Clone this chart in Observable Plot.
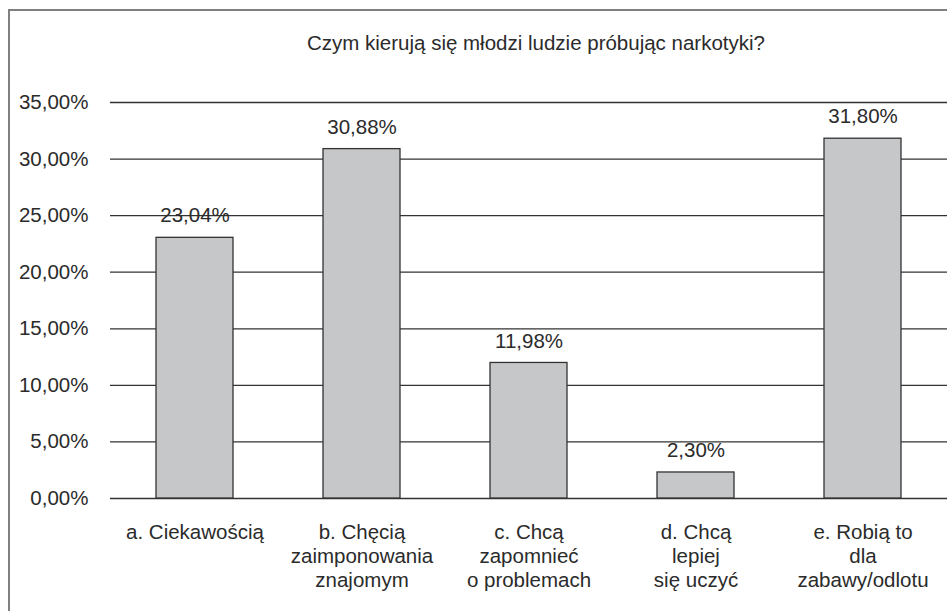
<!DOCTYPE html>
<html><head><meta charset="utf-8">
<script src="https://cdn.jsdelivr.net/npm/d3@7"></script>
<script src="https://cdn.jsdelivr.net/npm/@observablehq/plot@0.6"></script>
<style>
body{margin:0;background:#fff;overflow:hidden}
#wrap{position:relative;width:947px;height:611px;overflow:hidden}
#wrap svg{position:absolute;left:0;top:0}
#border{position:absolute;left:8px;top:9px;width:1000px;height:700px;border-left:2px solid #808080;border-top:2px solid #808080;pointer-events:none}
</style></head><body><div id="wrap"><div id="border"></div></div>
<script>
const title = "Czym kierują się młodzi ludzie próbując narkotyki?";
const categories = [
  "a. Ciekawością",
  "b. Chęcią\nzaimponowania\nznajomym",
  "c. Chcą\nzapomnieć\no problemach",
  "d. Chcą\nlepiej\nsię uczyć",
  "e. Robią to\ndla\nzabawy/odlotu"
];
const values = [23.04, 30.88, 11.98, 2.30, 31.80];
const yTicks = [0, 5, 10, 15, 20, 25, 30, 35];

const data = categories.map((c, i) => ({cat: c, value: values[i]}));
const fmt = v => v.toFixed(2).replace(".", ",") + "%";
const ink = "#2b2b2b";
const fs = 20.5;

const chart = Plot.plot({
  width: 947, height: 611,
  marginLeft: 110, marginRight: 0, marginTop: 102, marginBottom: 113,
  style: {fontFamily: "'Liberation Sans', Arial, sans-serif", fontSize: fs + "px", color: ink, background: "transparent"},
  x: {domain: categories, paddingInner: 0.54, paddingOuter: 0.27, label: null},
  y: {domain: [0, 35], label: null},
  marks: [
    Plot.ruleY(yTicks, {stroke: "#333", strokeWidth: 1.3}),
    Plot.barY(data, {x: "cat", y: "value", fill: "#c6c7c8", stroke: "#333", strokeWidth: 1.3}),
    Plot.text(data, {x: "cat", y: "value", text: d => fmt(d.value), dy: -22, fontSize: fs, fill: ink}),
    Plot.axisY({ticks: yTicks, tickFormat: fmt, tickSize: 0, tickPadding: 22, fontSize: fs, label: null, fill: ink}),
    Plot.axisX({tickSize: 0, tickPadding: 23, fontSize: fs, lineHeight: 1.18, label: null, fill: ink}),
    Plot.text([title], {frameAnchor: "top", dy: -59, dx: 7, fontSize: fs, lineAnchor: "middle", fill: ink})
  ]
});
document.getElementById("wrap").prepend(chart);
</script>
</body></html>
